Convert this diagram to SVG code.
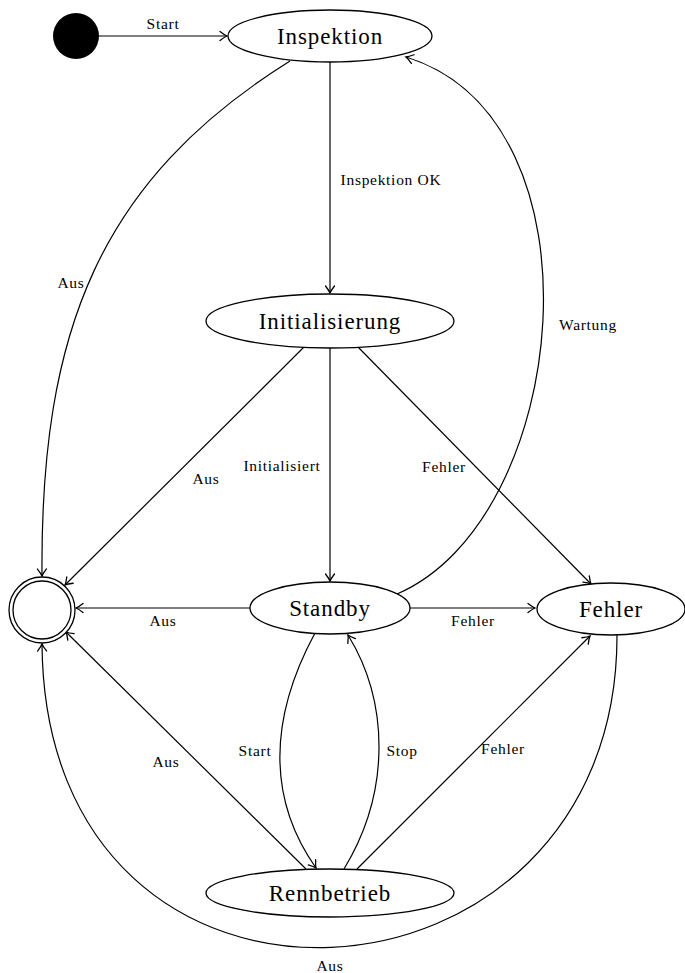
<svg xmlns="http://www.w3.org/2000/svg" width="685" height="973" viewBox="0 0 685 973">
<style>
.n{fill:#fff;stroke:#000;stroke-width:1.3}
.t{font-size:23px;letter-spacing:0.9px;text-anchor:middle;fill:#000}
.l{font-size:15.5px;letter-spacing:0.7px;text-anchor:middle;fill:#000}
.e{fill:none;stroke:#000;stroke-width:1.2;marker-end:url(#a)}
</style>
<defs>
<marker id="a" markerUnits="userSpaceOnUse" markerWidth="14" markerHeight="14" viewBox="-8 -7 10 14" refX="0" refY="0" orient="auto">
<path d="M-7,-4.5 Q-2.5,-1 0,0 Q-2.5,1 -7,4.5" fill="none" stroke="#000" stroke-width="1.3" stroke-linecap="round"/>
</marker>
</defs>
<g id="connectors">
<path class="e" d="M99,36 L227,36"/>
<path class="e" d="M330,62 L330,293"/>
<path class="e" d="M290,61 C100,180 40,330 42,576"/>
<path class="e" d="M397,594 C570,520 610,120 406,57"/>
<path class="e" d="M330,348 L330,581"/>
<path class="e" d="M304,347 L65,585"/>
<path class="e" d="M357,346 L591,584"/>
<path class="e" d="M250,608 L76,608"/>
<path class="e" d="M410,608 L535,608"/>
<path class="e" d="M315,633 C268,720 268,800 316,868"/>
<path class="e" d="M344,869 C392,790 388,700 348,635"/>
<path class="e" d="M357,869 L590,636"/>
<path class="e" d="M306,869 L66,632"/>
<path class="e" d="M617,635 C618,1030 45,1070 42,644"/>
</g>
<g id="labels" font-family="Liberation Serif, DejaVu Serif, serif">
<text class="l" x="163" y="29">Start</text>
<text class="l" x="391" y="185">Inspektion OK</text>
<text class="l" x="71" y="288">Aus</text>
<text class="l" x="588" y="330">Wartung</text>
<text class="l" x="282" y="471">Initialisiert</text>
<text class="l" x="206" y="484">Aus</text>
<text class="l" x="444" y="472">Fehler</text>
<text class="l" x="163" y="626">Aus</text>
<text class="l" x="473" y="626">Fehler</text>
<text class="l" x="255" y="756">Start</text>
<text class="l" x="402" y="756">Stop</text>
<text class="l" x="503" y="754">Fehler</text>
<text class="l" x="166" y="767">Aus</text>
<text class="l" x="330" y="971">Aus</text>
</g>
<g id="init"><circle cx="76" cy="36" r="23" fill="#000"/></g>
<g id="final"><circle class="n" cx="42" cy="610" r="33"/><circle class="n" cx="42" cy="610" r="29"/></g>
<g font-family="Liberation Serif, DejaVu Serif, serif">
<g id="inspektion"><ellipse class="n" cx="330" cy="36" rx="102" ry="26"/><text class="t" x="330" y="44">Inspektion</text></g>
<g id="initialisierung"><ellipse class="n" cx="330" cy="321" rx="124" ry="27"/><text class="t" x="330" y="329">Initialisierung</text></g>
<g id="standby"><ellipse class="n" cx="330" cy="608" rx="80" ry="26"/><text class="t" x="330" y="616">Standby</text></g>
<g id="fehler"><ellipse class="n" cx="611" cy="609" rx="74" ry="26"/><text class="t" x="611" y="617">Fehler</text></g>
<g id="rennbetrieb"><ellipse class="n" cx="330" cy="893" rx="124" ry="24"/><text class="t" x="330" y="901">Rennbetrieb</text></g>
</g>
</svg>
